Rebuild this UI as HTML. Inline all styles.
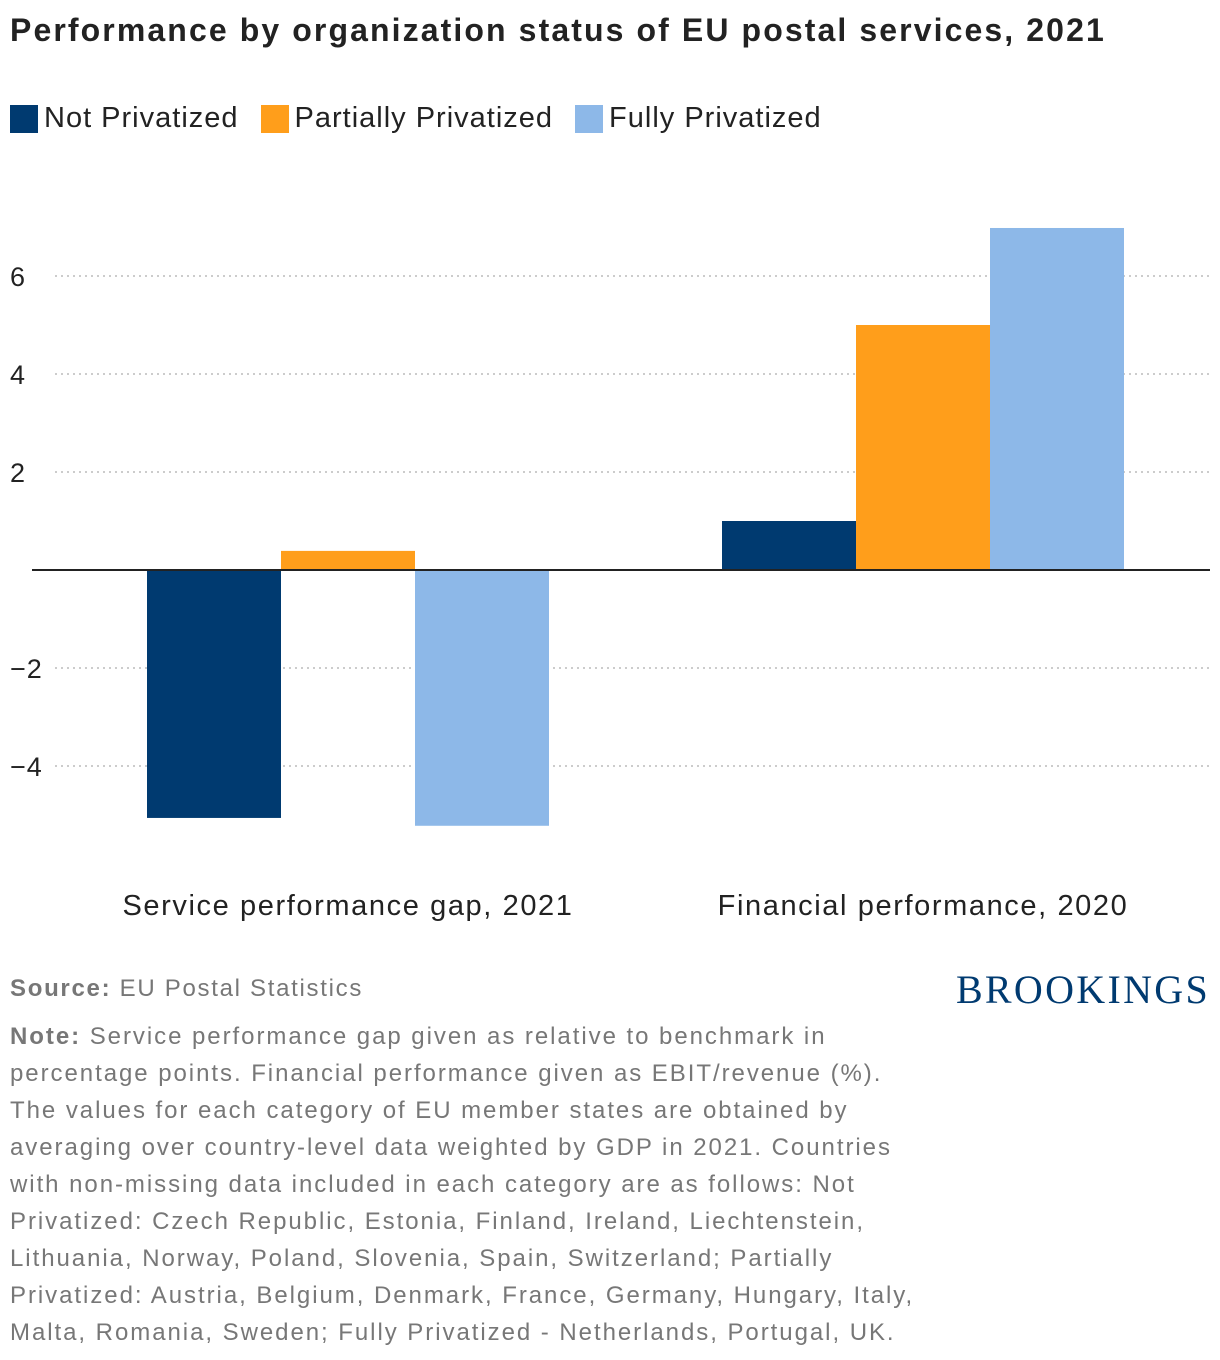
<!DOCTYPE html>
<html><head><meta charset="utf-8"><style>
body{margin:0;width:1220px;height:1360px;background:#fff;font-family:"Liberation Sans",sans-serif;position:relative;overflow:hidden}
.abs{position:absolute}
</style></head><body>
<div class="abs" style="left:10px;top:12px;font-size:32px;font-weight:bold;color:#222;letter-spacing:2.1px;white-space:nowrap">Performance by organization status of EU postal services, 2021</div>
<div class="abs" style="left:10px;top:102px;font-size:29px;color:#222;display:flex;align-items:center;letter-spacing:1px;white-space:nowrap">
<span style="display:flex;align-items:center"><span style="width:28px;height:28px;background:#003a70;display:inline-block;margin-right:6px"></span>Not Privatized</span>
<span style="display:flex;align-items:center;margin-left:22px"><span style="width:28px;height:28px;background:#ff9e1b;display:inline-block;margin-right:6px"></span>Partially Privatized</span>
<span style="display:flex;align-items:center;margin-left:22px"><span style="width:28px;height:28px;background:#8db8e8;display:inline-block;margin-right:6px"></span>Fully Privatized</span>
</div>
<svg id="chart" class="abs" style="left:0;top:0" width="1220" height="940"></svg>
<div class="abs" style="left:10px;top:975px;font-size:24px;color:#777;letter-spacing:1.7px;white-space:nowrap"><b>Source:</b> EU Postal Statistics</div>
<div class="abs" style="right:10px;top:966px;font-family:'Liberation Serif',serif;font-size:40px;color:#003a70;letter-spacing:2.3px">BROOKINGS</div>
<div class="abs" style="left:10px;top:1018px;font-size:24px;line-height:37px;color:#777;letter-spacing:1.95px;white-space:nowrap"><b>Note:</b> Service performance gap given as relative to benchmark in<br>percentage points. Financial performance given as EBIT/revenue (%).<br>The values for each category of EU member states are obtained by<br>averaging over country-level data weighted by GDP in 2021. Countries<br>with non-missing data included in each category are as follows: Not<br>Privatized: Czech Republic, Estonia, Finland, Ireland, Liechtenstein,<br>Lithuania, Norway, Poland, Slovenia, Spain, Switzerland; Partially<br>Privatized: Austria, Belgium, Denmark, France, Germany, Hungary, Italy,<br>Malta, Romania, Sweden; Fully Privatized - Netherlands, Portugal, UK.</div>
<script>
const categories=["Service performance gap, 2021","Financial performance, 2020"];
const notPrivatized=[-5.06,1.0];
const partiallyPrivatized=[0.39,5.0];
const fullyPrivatized=[-5.22,6.98];
const ticks=[-4,-2,2,6,4];
const tickLabels=["−4","−2","2","6","4"];
const series=[notPrivatized,partiallyPrivatized,fullyPrivatized];
const seriesNames=["not-privatized","partially-privatized","fully-privatized"];
const colors=["#003a70","#ff9e1b","#8db8e8"];
const NS="http://www.w3.org/2000/svg";
const svg=document.getElementById('chart');
const y=v=>570-v*49;
const groupCenters=[348,923];
const bw=134;
function mk(t,a){const e=document.createElementNS(NS,t);for(const k in a)e.setAttribute(k,a[k]);svg.appendChild(e);return e;}
ticks.forEach((t,i)=>{
 const l=mk('line',{x1:55,x2:1210,y1:y(t),y2:y(t),stroke:'#bbb','stroke-width':1.5,'stroke-dasharray':'2,4'});
 
 
 const tx=mk('text',{x:10,y:y(t)+10,'font-size':27,fill:'#222','font-family':'Liberation Sans, sans-serif','letter-spacing':1});
 tx.textContent=tickLabels[i];
 
 
});
categories.forEach((c,ci)=>{
 series.forEach((s,si)=>{
  const v=s[ci];const x=groupCenters[ci]-1.5*bw+si*bw;
  const r=mk('rect',{x:x,y:Math.min(y(v),y(0)),width:bw,height:Math.abs(y(v)-y(0)),fill:colors[si]});
  
  
 });
 const t=mk('text',{x:groupCenters[ci],y:915,'text-anchor':'middle','font-size':29,fill:'#222','font-family':'Liberation Sans, sans-serif','letter-spacing':1.6});
 t.textContent=c;
 
 
});
const z=mk('line',{x1:32,x2:1210,y1:y(0),y2:y(0),stroke:'#222','stroke-width':2});


</script>
</body></html>
